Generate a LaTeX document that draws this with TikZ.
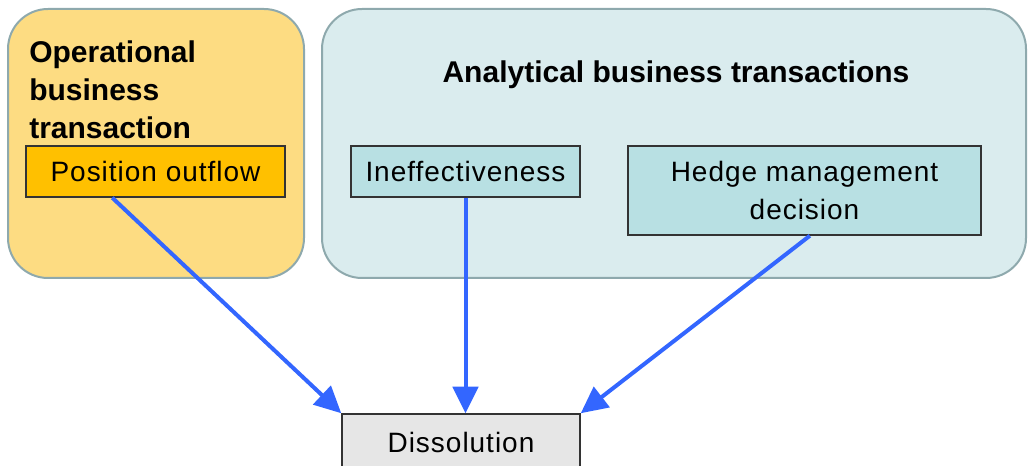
\documentclass[tikz,border=0pt]{standalone}
\usepackage{fontspec}
\setmainfont{Liberation Sans}
\usepackage{tikz}
\usetikzlibrary{arrows.meta, positioning}

\definecolor{opfill}{HTML}{FDDC82}
\definecolor{anfill}{HTML}{DAECEE}
\definecolor{groupline}{HTML}{8EA9AD}
\definecolor{posfill}{HTML}{FFC000}
\definecolor{cyanfill}{HTML}{B8E0E3}
\definecolor{grayfill}{HTML}{E6E6E6}
\definecolor{arrblue}{HTML}{3366FF}

\begin{document}
\begin{tikzpicture}[
  x=0.75pt, y=-0.75pt,
  group/.style={draw=groupline, line width=1.5pt, rounded corners=30pt},
  box/.style={draw=black!80, line width=1.1pt, align=center, inner sep=0pt,
              font=\fontsize{21pt}{28pt}\selectfont\addfontfeature{LetterSpace=3.5}},
  title/.style={font=\fontsize{22.5pt}{28.5pt}\selectfont\bfseries, inner sep=0pt},
  arr/.style={-{Triangle[length=20pt, width=19pt]}, draw=arrblue,
              line width=3pt}]
  \useasboundingbox (0,0) rectangle (1028,466);
  \node[group, fill=opfill, minimum width=222pt, minimum height=201.75pt]
        (opgroup) at (156,143.5) {};
  \node[group, fill=anfill, minimum width=528pt, minimum height=201.75pt]
        (angroup) at (674,143.5) {};
  \node[title, anchor=north west, align=left] (optitle) at (29,40)
        {Operational\\business\\transaction};
  \node[title] (antitle) at (676,75) {Analytical business transactions};
  \node[box, fill=posfill, minimum width=194.25pt, minimum height=38.25pt]
        (pos) at (155.5,171.5) {Position outflow};
  \node[box, fill=cyanfill, minimum width=171.75pt, minimum height=38.25pt]
        (ineff) at (465.5,171.5) {Ineffectiveness};
  \node[box, fill=cyanfill, minimum width=264.75pt, minimum height=66.75pt]
        (hedge) at (804.5,190.5) {Hedge management\\decision};
  \node[box, fill=grayfill, minimum width=178.5pt, minimum height=42pt]
        (diss) at (461,442) {Dissolution};
  \draw[arr] ([xshift=65.25pt]pos.south west) -- (diss.north west);
  \draw[arr] (ineff.south) -- (ineff.south |- diss.north);
  \draw[arr] ([xshift=4pt]hedge.south) -- (diss.north east);
\end{tikzpicture}
\end{document}
